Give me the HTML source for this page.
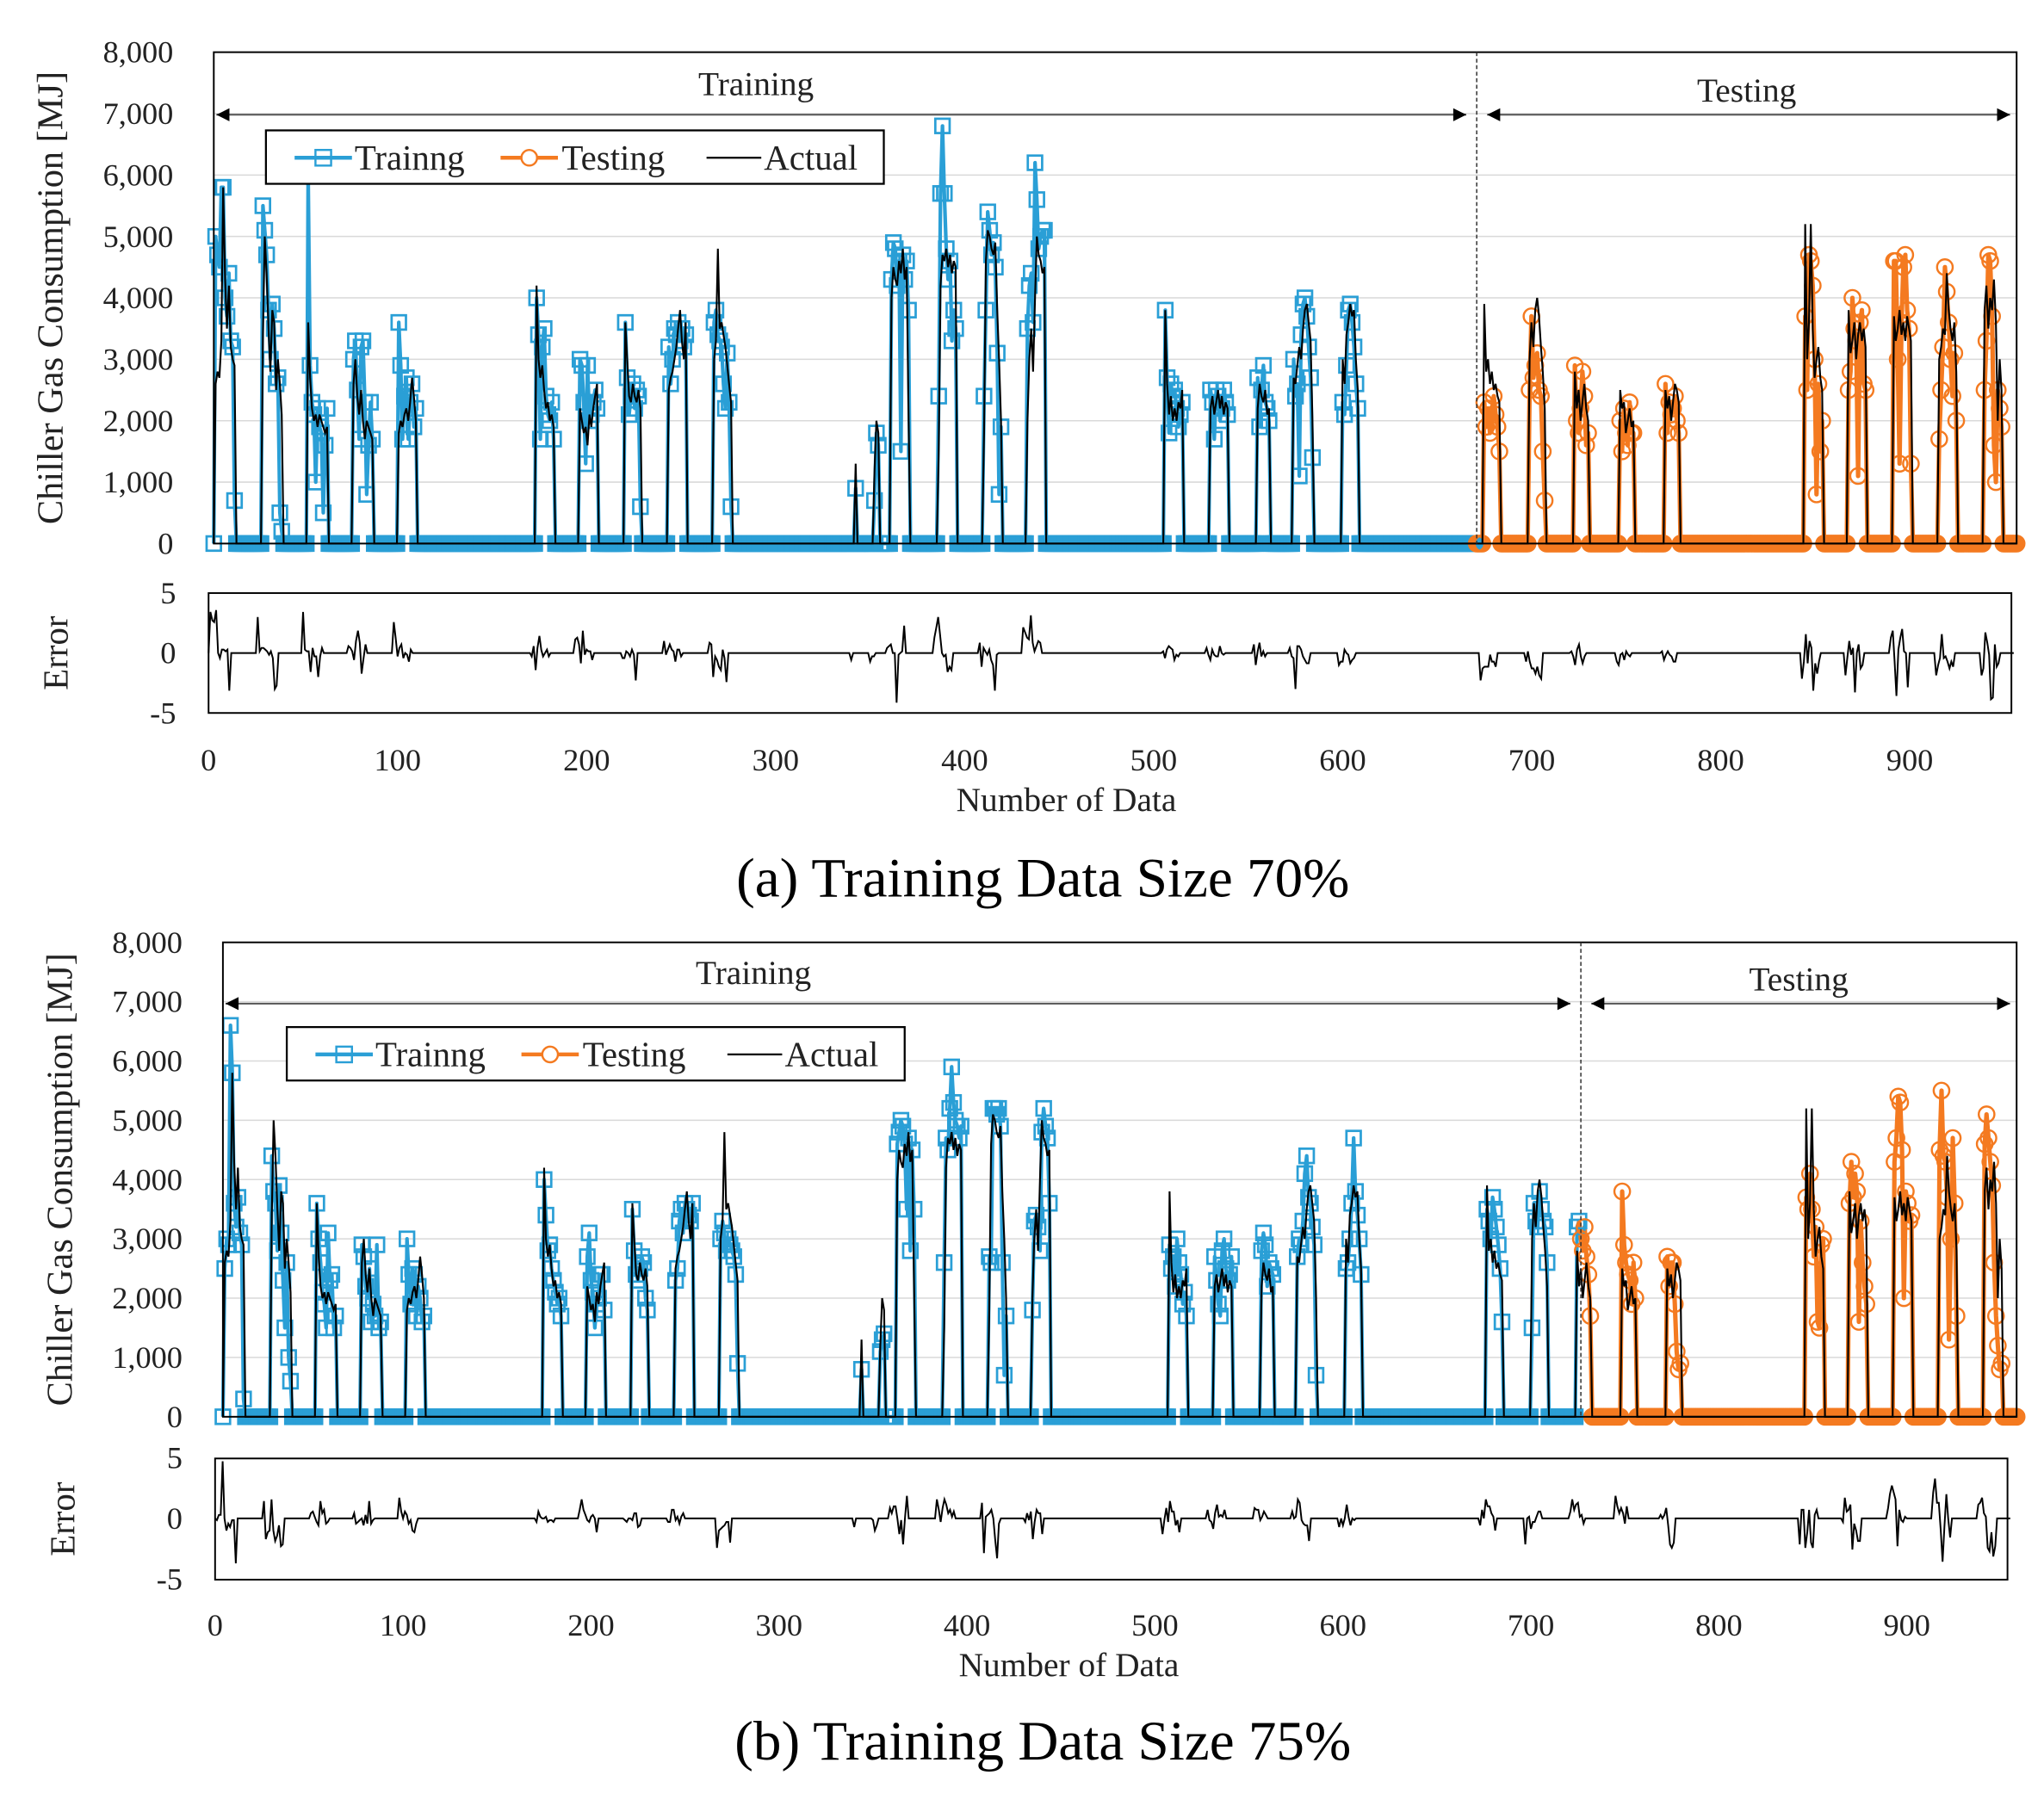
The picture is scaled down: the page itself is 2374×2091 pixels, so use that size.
<!DOCTYPE html>
<html><head><meta charset="utf-8"><style>
html,body{margin:0;padding:0;background:#fff;}
svg{display:block;font-family:"Liberation Serif",serif;}
</style></head><body>
<svg id="fig" width="2374" height="2091" viewBox="0 0 1568 1381" xmlns="http://www.w3.org/2000/svg"></svg>
<script>
// ---- data ----
const blockStarts=[1,26,50,74,98,171,194,218,241,265,340,350,359,384,408,431,504,528,553,572,598,673,697,721,745,769,843,866,890,914,938];
const actualVals=[
[2600,2800,2700,3300,5800,4300,3500,4200,3200,3000,2900],
[3400,5000,4400,3500,2800,3800,3600,2500,3000,2600,2100],
[3600,2700,2200,2000,2100,1900,2100,2000,1900,1800,1900],
[2600,3000,2400,2100,2500,2000,1700,2000,1900,1800,1700],
[1800,2000,1900,2100,2200,2000,2300,2700,2400,2000],
[4200,3000,2700,2900,2500,2200,2300,2000,2100,1900],
[2200,2000,1800,1900,1600,2100,1900,2200,2400,2600],
[3600,3000,2400,2300,2600,2400,2300,2500,2200],
[2500,2700,2800,3000,3200,3500,3800,3300,3000,3600],
[3000,3300,4800,3500,3600,3400,3200,2900,2600,2300],
[1300],
[1200,2000,1800],
[4000,4500,4300,4200,4600,4400,4800,4300,4500,2200],
[1500,4200,4700,4600,4800,4500,4700,4400,4600,4500],
[1800,4600,5100,5000,4800,4700,4900,3800,3000,2000],
[2000,3000,3500,2800,4000,5000,4700,4600,4400,4500],
[3800,2600,2100,2400,2000,2200,2000,2300,2200,2500],
[2200,2400,2100,2300,2500,2200,2400,2100,2300,2200],
[2200,2600,2400,2300,2500,2100,2200],
[2700,2600,2900,3200,3000,3500,3800,3900,3600,3300,2000],
[3000,2600,3400,3600,3900,3700,3800,3000,2500],
[3900,2800,3000,2600,2800,2500,2600,2400,2300],
[3000,3600,3200,3800,4000,3700,3200,2800,2200],
[2800,2200,2500,2000,2300,2600,2200,2000],
[2500,2200,2300,1800,2000,2200,1900,2000],
[2500,2200,2400,2000,2300,2600,2500,2300],
[5200,3000,3600,5200,3500,2700,3000,3200,2700,2500],
[3800,3100,3300,3600,3000,3400,3600,3300,3500,3200],
[3700,3300,3500,3800,3400,3600,3300,3700,3500,3300],
[3000,3200,3500,3400,4400,3800,3500,3300,3600,2800],
[3800,4200,3500,4000,3800,4300,3600,2000,3000,2500]];
const predAVals=[
[5000,4700,4500,5800,5800,4000,3700,4400,3300,3200,700],
[5500,5100,4700,3800,3000,3900,3500,2600,2700,500,200],
[6000,2900,2300,2100,1000,2200,1900,1800,500,1600,2200],
[3000,3300,2500,1700,3200,3300,2300,800,1600,2300,1700],
[3600,2900,1700,2400,2700,1700,2300,2600,1900,2200],
[4000,3400,1700,3200,3500,2400,2100,2000,2300,1700],
[3000,2900,2300,1300,2900,2000,2100,2300,2500,2200],
[3600,2700,2100,2400,2600,2200,2500,2400,600],
[3200,2600,3000,3500,3400,3600,3300,3500,3200,3400],
[3600,3800,3400,3300,3200,2600,2200,3100,2300,600],
[900],
[700,1800,1600],
[4300,4900,4800,4200,4600,1500,4700,4300,4600,3800],
[2400,5700,6800,5700,4800,4300,4600,3300,3800,3500],
[2400,3800,5400,5100,4700,4900,4500,3100,800,1900],
[3500,4200,4400,3600,6200,5600,4800,5000,5100,5100],
[3800,2700,1800,2600,2400,2500,2200,1900,2100,2300],
[2500,2300,1700,2500,2400,2000,2200,2500,2300,2100],
[2700,1900,2500,2900,2300,2200,2000],
[3000,2400,2600,1100,3400,3900,4000,3700,3200,2700,1400],
[2300,2100,2900,3800,3900,3600,3200,2600,2200],
[2300,1900,2200,1800,2000,2400,2100,1900,1500],
[2500,3700,2700,2900,3100,2500,2400,1500,700],
[2900,2000,1800,2200,2800,2400,1600,1800],
[2000,1500,2200,1800,1600,2300,1800,1800],
[2600,1800,2300,2100,2200,2400,2000,1800],
[3700,2500,4700,4600,4200,3000,800,2600,1500,2000],
[2500,2800,4000,3500,3300,1100,3600,3800,2600,2500],
[4600,4600,3000,1300,3600,4500,4700,3800,3500,1300],
[1700,2500,3200,4500,4100,3600,3000,2400,3100,2000],
[2500,3300,4700,4600,3700,1600,1000,2500,2200,1900]];
const predBVals=[
[2500,3000,2900,6600,5800,3600,3200,3700,3100,2900,300],
[4400,3800,3600,2800,3900,3100,2300,1500,2600,1000,600],
[3600,3000,2600,2100,1900,1500,3100,2300,2400,1500,1700],
[2900,2700,2200,2000,2500,1600,1900,1700,2900,1500,1600],
[3000,2400,1900,2500,2400,1700,2200,2000,1600,1700],
[4000,3400,2800,2900,2500,2300,2100,1900,2000,1700],
[2700,3100,2300,2100,1500,1900,2000,2400,2400,1800],
[3500,2800,2400,2300,2500,2700,2600,2000,1800],
[2300,2500,3300,3500,3100,3600,3500,3400,3300,3600],
[3000,3300,3100,2800,3000,2900,2800,2700,2400,900],
[800],
[1100,1300,1400],
[4600,4800,5000,4900,4600,3500,4700,2800,4500,3500],
[2600,4700,4500,5200,5900,5300,5000,4900,4700,4900],
[2700,2600,5200,5200,5100,5200,4900,2600,700,1700],
[1800,3300,3400,3200,2800,4800,5200,4900,4700,3600],
[2900,2500,2700,2200,3000,2600,2400,1900,2100,1700],
[2700,2300,1900,1700,2800,3000,2500,2300,2400,2700],
[2800,3100,2900,2200,2600,2500,2400],
[2700,3000,2900,3300,4100,4400,3700,3600,3200,2900,700],
[2500,2600,3000,3600,4700,3800,3400,3000,2400],
[3500,3300,3000,3700,3500,3200,2900,2500,1600],
[1500,3600,3300,3200,3800,3500,3300,3200,2600],
[3200,3300,3000,2800,3200,2700,2400,1700],
[3800,2900,2600,2400,2300,1900,2600,2000],
[2700,2200,2600,2600,1900,1100,800,900],
[3700,3500,4100,3500,2700,3200,1600,1500,2900,3000],
[3600,4300,3700,4100,3800,1600,3300,2600,2200,1900],
[4300,4700,5400,5300,4500,2000,3800,3600,3300,3400],
[4500,5500,4400,4300,3700,1300,3000,4700,3600,1700],
[4600,5100,4700,4300,3900,2600,1700,1200,800,900]];
const predBase=0;
const nPoints=956;
const splitA=669, splitB=723;
const yTickLabels=["0","1,000","2,000","3,000","4,000","5,000","6,000","7,000","8,000"];
const yTickValues=[0,1000,2000,3000,4000,5000,6000,7000,8000];
const errTickValues=[5,0,-5];
const xTickValues=[0,100,200,300,400,500,600,700,800,900];
const errScale=700;

const NS="http://www.w3.org/2000/svg";
const svg=document.getElementById('fig');
function el(tag,attrs,parent){const e=document.createElementNS(NS,tag);for(const k in attrs)e.setAttribute(k,attrs[k]);(parent||svg).appendChild(e);return e;}
function txt(s,attrs,parent){const e=el('text',attrs,parent);e.textContent=s;return e;}

function series(predVals){
  const act=new Array(nPoints).fill(0), pred=new Array(nPoints).fill(predBase);
  blockStarts.forEach((s,b)=>{actualVals[b].forEach((v,j)=>{act[s+j]=v;});predVals[b].forEach((v,j)=>{pred[s+j]=v;});});
  return {act,pred};
}

function drawChart(c,predVals,split,label){
  const g=el('g',{});
  
  
  const X=i=>c.left+i*(c.right-c.left)/955;
  const Y=v=>c.bottom-v/8000*(c.bottom-c.top);
  const EY=v=>c.eMid-v/5*(c.eBot-c.eTop)/2;
  const EX=i=>c.eLeft+i*c.xs;
  yTickValues.forEach((v,k)=>{
    if(v>0&&v<8000){const l=el('line',{x1:c.left,x2:c.right,y1:Y(v),y2:Y(v),stroke:'#d9d9d9','stroke-width':1},g);
    }
    const t=txt(yTickLabels[k],{x:c.left-31,y:Y(v)+8,'text-anchor':'end','font-size':24,fill:'#222'},g);
    
  });
  const {act,pred}=series(predVals);
  const trainPts=[],testPts=[];
  for(let i=0;i<nPoints;i++){const p=X(i).toFixed(1)+','+Y(pred[i]).toFixed(1);if(i<split)trainPts.push(p);else testPts.push(p);}
  if(split<nPoints)testPts.unshift(X(split-1).toFixed(1)+','+Y(pred[split-1]).toFixed(1));
  const pl1=el('polyline',{points:trainPts.join(' '),fill:'none',stroke:'#2a9fd6','stroke-width':2.8,'stroke-linejoin':'round'},g);
  
  const pl2=el('polyline',{points:testPts.join(' '),fill:'none',stroke:'#f47a20','stroke-width':3.4,'stroke-linejoin':'round'},g);
  
  for(let i=0;i<nPoints;i++){
    if(i<split){const m=el('rect',{x:X(i)-5.5,y:Y(pred[i])-5.5,width:11,height:11,fill:'none',stroke:'#2a9fd6','stroke-width':1.8},g);
      }
    else{const m=el('circle',{cx:X(i),cy:Y(pred[i]),r:6,fill:'none',stroke:'#f47a20','stroke-width':1.6},g);
      }
  }
  const ap=act.map((v,i)=>X(i).toFixed(1)+','+Y(v).toFixed(1)).join(' ');
  const al=el('polyline',{points:ap,fill:'none',stroke:'#000','stroke-width':1.4},g);
  
  const fr=el('rect',{x:c.left,y:c.top,width:c.right-c.left,height:c.bottom-c.top,fill:'none',stroke:'#000','stroke-width':1.3},g);
  
  const sx=X(split);
  const sl=el('line',{x1:sx,x2:sx,y1:c.top,y2:c.bottom,stroke:'#333','stroke-width':1,'stroke-dasharray':'3,2'},g);
  
  const ay=c.arrowY;
  [[c.left+2,sx-8],[sx+8,c.right-5]].forEach(([a,b])=>{
    const l=el('line',{x1:a,x2:b,y1:ay,y2:ay,stroke:'#555','stroke-width':1.3},g);
    
    el('polygon',{points:`${a},${ay} ${a+10},${ay-5} ${a+10},${ay+5}`,fill:'#000'},g);
    el('polygon',{points:`${b},${ay} ${b-10},${ay-5} ${b-10},${ay+5}`,fill:'#000'},g);
  });
  const t1=txt('Training',{x:c.trainLabelX,y:ay-15,'text-anchor':'middle','font-size':26,fill:'#222'},g);
  
  const t2=txt('Testing',{x:(sx+c.right)/2,y:ay-10,'text-anchor':'middle','font-size':26,fill:'#222'},g);
  
  const lg=el('g',{},g);
  
  el('rect',{x:c.lgX,y:c.lgY,width:474,height:41,fill:'#fff',stroke:'#000','stroke-width':1.5},lg);
  const ly=c.lgY+21;
  el('line',{x1:c.lgX+22,x2:c.lgX+66,y1:ly,y2:ly,stroke:'#2a9fd6','stroke-width':3},lg);
  el('rect',{x:c.lgX+38,y:ly-6,width:12,height:12,fill:'none',stroke:'#2a9fd6','stroke-width':1.6},lg);
  txt('Trainng',{x:c.lgX+68,y:ly+9,'font-size':27,fill:'#222'},lg);
  el('line',{x1:c.lgX+180,x2:c.lgX+224,y1:ly,y2:ly,stroke:'#f47a20','stroke-width':3},lg);
  el('circle',{cx:c.lgX+202,cy:ly,r:6,fill:'#fff',stroke:'#f47a20','stroke-width':1.6},lg);
  txt('Testing',{x:c.lgX+227,y:ly+9,'font-size':27,fill:'#222'},lg);
  el('line',{x1:c.lgX+338,x2:c.lgX+380,y1:ly,y2:ly,stroke:'#000','stroke-width':1.5},lg);
  txt('Actual',{x:c.lgX+382,y:ly+9,'font-size':27,fill:'#222'},lg);
  const yt=txt('Chiller Gas Consumption  [MJ]',{x:0,y:0,'text-anchor':'middle','font-size':28,fill:'#222',transform:`translate(${c.left-116},${(c.top+c.bottom)/2}) rotate(-90)`},g);
  
  const ef=el('rect',{x:c.eLeft,y:c.eTop,width:c.eRight-c.eLeft,height:c.eBot-c.eTop,fill:'none',stroke:'#000','stroke-width':1.3},g);
  
  errTickValues.forEach(v=>{const t=txt(String(v),{x:c.eLeft-25,y:EY(v)+8,'text-anchor':'end','font-size':24,fill:'#222'},g);
    });
  const ep=[];
  for(let i=0;i<nPoints;i++){let e=act[i]>0?(pred[i]-act[i])/errScale:0;e=Math.max(-4.8,Math.min(4.8,e));ep.push(EX(i).toFixed(1)+','+EY(e).toFixed(1));}
  const el2=el('polyline',{points:ep.join(' '),fill:'none',stroke:'#000','stroke-width':1.3},g);
  
  const et=txt('Error',{x:0,y:0,'text-anchor':'middle','font-size':27,fill:'#222',transform:`translate(${c.eLeft-108},${(c.eTop+c.eBot)/2}) rotate(-90)`},g);
  
  xTickValues.forEach(v=>{const t=txt(String(v),{x:EX(v),y:c.xLabY,'text-anchor':'middle','font-size':24,fill:'#222'},g);
    });
  const xt=txt('Number  of Data',{x:c.xTitleX,y:c.xLabY+31,'text-anchor':'middle','font-size':26,fill:'#222'},g);
  
  const cap=txt(label,{x:800,y:c.capY,'text-anchor':'middle','font-size':43,fill:'#000'},g);
  
}

drawChart({name:'chart-a',left:164,right:1547,top:40,bottom:417,arrowY:88,trainLabelX:580,lgX:204,lgY:100,
  eLeft:160,eRight:1543,eTop:455,eBot:547,eMid:501,xs:1.45,xLabY:591,xTitleX:818,capY:688},predAVals,splitA,'(a) Training Data Size 70%');
drawChart({name:'chart-b',left:171,right:1547,top:723,bottom:1087,arrowY:770,trainLabelX:578,lgX:220,lgY:788,
  eLeft:165,eRight:1540,eTop:1119,eBot:1212,eMid:1165,xs:1.442,xLabY:1255,xTitleX:820,capY:1350},predBVals,splitB,'(b) Training Data Size 75%');
</script>
</body></html>
